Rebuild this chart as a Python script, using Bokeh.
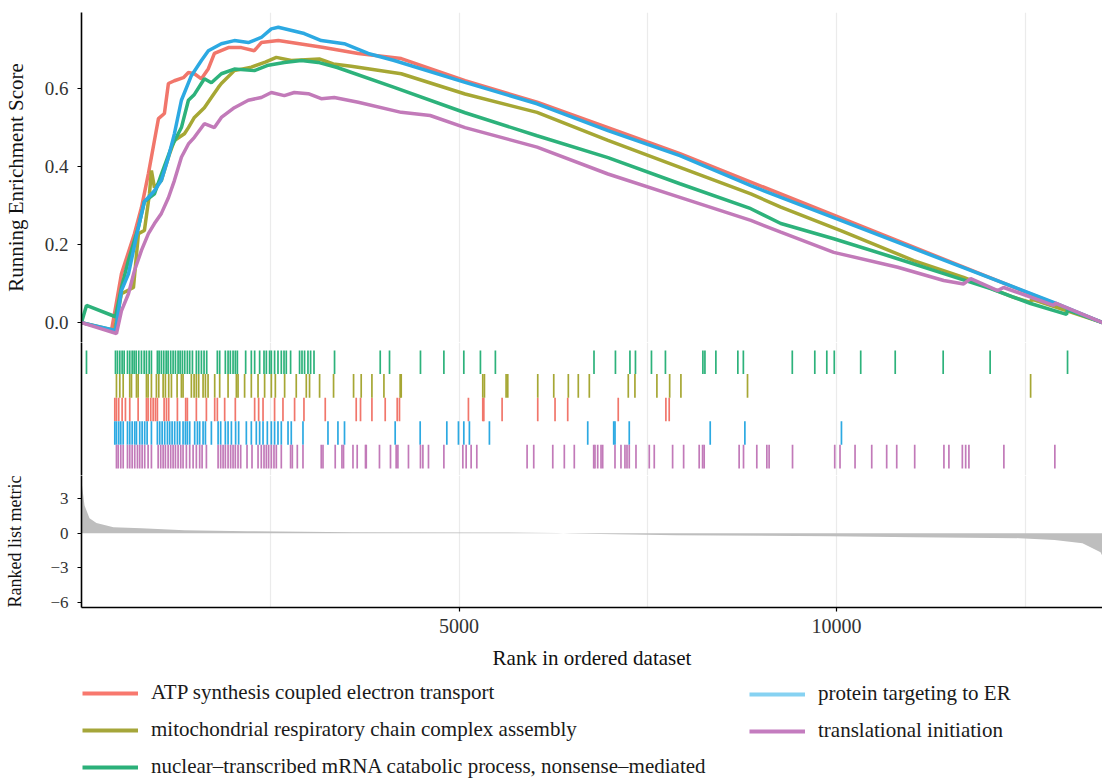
from bokeh.plotting import figure
from bokeh.layouts import column
from bokeh.models import Range1d, FixedTicker, Legend, LegendItem, PrintfTickFormatter
from bokeh.embed import file_html
from bokeh.resources import INLINE

# ---------------- data ----------------
N_GENES = 13521

set_names = [
    "ATP synthesis coupled electron transport",
    "mitochondrial respiratory chain complex assembly",
    "nuclear\u2013transcribed mRNA catabolic process, nonsense\u2013mediated",
    "protein targeting to ER",
    "translational initiation",
]
set_colors = ["#F1766B", "#A6A734", "#2DB27B", "#2CA9E2", "#C27AB9"]
legend_colors = ["#F8786E", "#A5A63A", "#2BB079", "#86D2F2", "#C47CBF"]

# running enrichment score (rank, ES)
atp_rank = [0, 397, 437, 529, 701, 794, 886, 966, 1019, 1098, 1151, 1230, 1349, 1416, 1495, 1588,
            1680, 1760, 1945, 2117, 2289, 2381, 2606, 2778, 3188, 3665, 4234, 5080, 6033, 6972, 7925, 13521]
atp_es = [0.0, -0.02, 0.023, 0.125, 0.228, 0.295, 0.382, 0.467, 0.523, 0.536, 0.613, 0.62, 0.628, 0.641,
          0.638, 0.625, 0.651, 0.69, 0.705, 0.705, 0.697, 0.718, 0.723, 0.718, 0.706, 0.69, 0.677, 0.62,
          0.565, 0.50, 0.433, 0.0]

mito_rank = [0, 437, 529, 688, 754, 833, 900, 926, 966, 1058, 1151, 1230, 1363, 1416, 1495, 1627, 1720,
             1812, 1852, 2024, 2249, 2434, 2580, 2778, 3149, 3334, 3572, 4234, 5080, 6033, 6972, 7925,
             8864, 9261, 10055, 11021, 11682, 12344, 12569, 12582, 13521]
mito_es = [0.0, -0.02, 0.074, 0.09, 0.228, 0.236, 0.33, 0.39, 0.346, 0.364, 0.424, 0.467, 0.484, 0.50,
           0.526, 0.551, 0.577, 0.603, 0.613, 0.646, 0.655, 0.668, 0.68, 0.672, 0.676, 0.663, 0.657, 0.638,
           0.586, 0.539, 0.467, 0.398, 0.33, 0.296, 0.236, 0.159, 0.116, 0.065, 0.052, 0.06, 0.0]

nmd_rank = [0, 66, 450, 529, 622, 754, 833, 966, 1058, 1191, 1323, 1416, 1495, 1627, 1720, 1852, 2024,
            2289, 2474, 2686, 2911, 3135, 3387, 4141, 5080, 6033, 6972, 7925, 8864, 9261, 9962, 10756,
            11378, 12039, 12569, 13045, 13058, 13521]
nmd_es = [0.0, 0.044, 0.015, 0.09, 0.16, 0.245, 0.31, 0.33, 0.38, 0.45, 0.50, 0.57, 0.585, 0.625, 0.615,
          0.638, 0.65, 0.646, 0.66, 0.667, 0.672, 0.667, 0.654, 0.603, 0.538, 0.479, 0.423, 0.356, 0.292,
          0.254, 0.215, 0.167, 0.128, 0.087, 0.049, 0.021, 0.033, 0.0]

er_rank = [0, 450, 529, 622, 754, 833, 966, 1058, 1151, 1230, 1323, 1455, 1588, 1680, 1852, 2024, 2209,
           2381, 2514, 2606, 2950, 3175, 3479, 3797, 4141, 5080, 6033, 6972, 7925, 8864, 9261, 10055,
           12873, 13521]
er_es = [0.0, -0.02, 0.082, 0.125, 0.245, 0.31, 0.338, 0.365, 0.424, 0.484, 0.57, 0.633, 0.672, 0.697,
         0.715, 0.723, 0.718, 0.731, 0.753, 0.757, 0.741, 0.723, 0.715, 0.69, 0.672, 0.616, 0.561, 0.492,
         0.428, 0.351, 0.321, 0.262, 0.052, 0.0]

ti_rank = [0, 463, 529, 622, 701, 794, 886, 966, 1058, 1151, 1230, 1323, 1416, 1495, 1627, 1760, 1852,
           2024, 2209, 2381, 2514, 2686, 2818, 3003, 3175, 3347, 3665, 4234, 4617, 5080, 6033, 6972, 7925,
           8864, 9261, 9962, 10809, 11418, 11682, 11775, 12132, 12211, 12873, 12900, 13521]
ti_es = [0.0, -0.028, 0.03, 0.074, 0.133, 0.185, 0.228, 0.254, 0.28, 0.32, 0.364, 0.424, 0.458, 0.475,
         0.51, 0.50, 0.526, 0.551, 0.57, 0.577, 0.59, 0.582, 0.59, 0.587, 0.574, 0.577, 0.565, 0.539, 0.531,
         0.50, 0.45, 0.381, 0.321, 0.262, 0.232, 0.18, 0.142, 0.108, 0.099, 0.113, 0.082, 0.09, 0.044,
         0.05, 0.0]

# hit positions (rank of each gene of the set)
atp_hits = [441, 463, 493, 538, 582, 639, 750, 860, 882, 917, 949, 979, 1005, 1094, 1125, 1155, 1270,
            1380, 1402, 1521, 1654, 1764, 1799, 1896, 2037, 2293, 2346, 2404, 2557, 2668, 2822, 2946,
            3228, 3638, 3695, 3846, 4022, 4181, 4211, 5124, 5314, 5328, 5570, 6042, 6271, 6439, 7108,
            7739, 7783]
mito_hits = [463, 507, 552, 639, 662, 728, 750, 860, 882, 926, 992, 1023, 1081, 1111, 1155, 1191, 1266,
             1323, 1345, 1455, 1491, 1521, 1552, 1610, 1641, 1676, 1764, 1830, 1941, 2051, 2073, 2160,
             2249, 2338, 2425, 2514, 2567, 2690, 2844, 2977, 3020, 3153, 3338, 3603, 3704, 3846, 4005,
             4220, 4234, 5314, 5336, 5623, 5645, 6042, 6254, 6447, 6579, 6725, 7241, 7329, 7620, 7789,
             7938, 8820, 12569]
nmd_hits = [66, 450, 476, 507, 538, 565, 609, 639, 671, 697, 724, 758, 794, 830, 860, 896, 926, 1005,
            1028, 1058, 1089, 1121, 1147, 1181, 1213, 1244, 1279, 1306, 1336, 1367, 1402, 1433, 1469,
            1521, 1552, 1588, 1623, 1658, 1799, 1830, 1905, 1941, 1971, 2007, 2037, 2064, 2174, 2249,
            2293, 2359, 2417, 2448, 2491, 2514, 2557, 2602, 2646, 2682, 2712, 2769, 2888, 2920, 2954,
            2999, 3034, 3079, 3351, 3956, 4079, 4489, 4799, 5063, 5283, 5481, 6787, 7071, 7263, 7336,
            7548, 7733, 8229, 8256, 8401, 8692, 8765, 9413, 9711, 9870, 9969, 10319, 10776, 11411,
            12033, 13058]
er_hits = [441, 463, 493, 520, 552, 609, 639, 671, 705, 728, 771, 803, 837, 869, 926, 1005, 1036, 1068,
           1102, 1138, 1168, 1200, 1234, 1270, 1301, 1345, 1376, 1402, 1433, 1499, 1535, 1565, 1610,
           1641, 1720, 1809, 1843, 1905, 1941, 1985, 2041, 2081, 2183, 2249, 2315, 2359, 2404, 2461,
           2514, 2557, 2602, 2646, 2735, 2778, 2933, 3264, 3396, 3483, 4154, 4485, 4838, 4992, 5063,
           5137, 5402, 6704, 7048, 7065, 7254, 8326, 8785, 10064]
ti_hits = [463, 486, 520, 552, 609, 639, 671, 705, 741, 771, 803, 837, 882, 926, 1015, 1049, 1081, 1111,
           1147, 1181, 1213, 1244, 1279, 1314, 1345, 1389, 1433, 1478, 1521, 1565, 1597, 1654, 1809,
           1843, 1875, 1905, 1941, 1975, 2007, 2037, 2073, 2108, 2192, 2258, 2338, 2381, 2417, 2448,
           2478, 2514, 2549, 2580, 2646, 2769, 2792, 2858, 2933, 3175, 3198, 3360, 3449, 3470, 3595,
           3651, 3761, 3771, 3946, 4092, 4167, 4190, 4330, 4489, 4521, 4595, 4799, 5050, 5094, 5160,
           5235, 5901, 5989, 6241, 6394, 6526, 6783, 6800, 6836, 6880, 6902, 7065, 7144, 7197, 7224,
           7254, 7343, 7519, 7585, 7828, 7974, 8180, 8225, 8246, 8709, 8767, 8943, 9076, 9106, 9416,
           9975, 10045, 10244, 10465, 10663, 10796, 11034, 11421, 11487, 11665, 11709, 11752, 12215,
           12890]

# ranked list metric
metric_rank = [0, 40, 106, 198, 423, 794, 1363, 2196, 3585, 5450, 6300, 6380, 6470, 7870, 9909, 11034,
               12423, 12886, 13256, 13495, 13521]
metric_val = [4.5, 2.4, 1.3, 0.87, 0.52, 0.43, 0.26, 0.17, 0.09, 0.06, 0.02, 0.0, -0.02, -0.17, -0.26,
              -0.35, -0.43, -0.6, -0.87, -1.65, -2.0]

es_ticks = [0.0, 0.2, 0.4, 0.6]
metric_ticks = [-6, -3, 0, 3]
rank_ticks = [5000, 10000]
grid_ticks = [2500, 5000, 7500, 10000, 12500]

curves = [(atp_rank, atp_es), (mito_rank, mito_es), (nmd_rank, nmd_es), (er_rank, er_es), (ti_rank, ti_es)]
hits = [atp_hits, mito_hits, nmd_hits, er_hits, ti_hits]
hit_row = [2, 3, 4, 1, 0]  # row from bottom

# ---------------- styling helpers ----------------
FONT = "Liberation Serif"
W = 1102
xr = Range1d(0, N_GENES)


def base(height, y_range, top=0, bottom=0, x_axis=None):
    p = figure(width=W, height=height, x_range=xr, y_range=y_range, output_backend="svg",
               toolbar_location=None, x_axis_location=x_axis, min_border_left=81,
               min_border_right=0, min_border_top=top, min_border_bottom=bottom)
    p.outline_line_color = None
    p.background_fill_color = "white"
    p.border_fill_color = "white"
    p.xgrid.ticker = FixedTicker(ticks=grid_ticks)
    p.xgrid.grid_line_color = "#ebebeb"
    p.xgrid.grid_line_width = 1.2
    p.ygrid.visible = False
    return p


def style_axis(ax, tick_size):
    ax.axis_line_color = "black"
    ax.axis_line_width = 1.6
    ax.major_tick_line_color = "black"
    ax.major_tick_line_width = 1.2
    ax.major_tick_out = 4
    ax.major_tick_in = 0
    ax.minor_tick_out = 0
    ax.minor_tick_in = 0
    ax.major_label_text_font = FONT
    ax.major_label_text_font_size = tick_size
    ax.major_label_text_color = "#333333"
    ax.axis_label_text_font = FONT
    ax.axis_label_text_font_style = "normal"
    ax.axis_label_text_color = "#111111"


# ---------------- ES panel ----------------
pA = base(342, Range1d(-0.051, 0.795), top=12)
for (rk, es), col in zip(curves, set_colors):
    pA.line(rk, es, color=col, line_width=3.5)
ya = pA.yaxis[0]
ya.ticker = FixedTicker(ticks=es_ticks)
ya.formatter = PrintfTickFormatter(format="%.1f")
style_axis(ya, "19px")
ya.axis_label = "Running Enrichment Score"
ya.axis_label_text_font_size = "21px"
ya.major_label_standoff = 9
ya.axis_label_standoff = 14

# ---------------- hits panel ----------------
pB = base(133, Range1d(-0.30, 5.34))
for hs, row, col in zip(hits, hit_row, set_colors):
    pB.segment(x0=hs, y0=[row] * len(hs), x1=hs, y1=[row + 1] * len(hs), line_color=col, line_width=1.7)
yb = pB.yaxis[0]
yb.ticker = FixedTicker(ticks=[])
style_axis(yb, "19px")

# ---------------- ranked metric panel ----------------
pC = base(202, Range1d(-6.43, 4.99), bottom=70, x_axis="below")
pC.varea(x=metric_rank, y1=[0] * len(metric_rank), y2=metric_val, fill_color="#BEBEBE")
yc = pC.yaxis[0]
yc.ticker = FixedTicker(ticks=metric_ticks)
style_axis(yc, "17px")
yc.axis_label = "Ranked list metric"
yc.axis_label_text_font_size = "18px"
yc.major_label_standoff = 9
yc.axis_label_standoff = 22
xc = pC.xaxis[0]
xc.ticker = FixedTicker(ticks=rank_ticks)
style_axis(xc, "20px")
xc.axis_label = "Rank in ordered dataset"
xc.axis_label_text_font_size = "21px"
xc.major_label_standoff = 7
xc.axis_label_standoff = 10

# ---------------- legend panel ----------------
# the legend's line keys reuse the curve data, kept out of the visible y range of this panel
pD = figure(width=W, height=101, x_range=Range1d(0, N_GENES), y_range=Range1d(5, 6), output_backend="svg",
            toolbar_location=None, x_axis_location=None, y_axis_location=None, min_border=0)
pD.outline_line_color = None
pD.grid.visible = False
pD.background_fill_color = "white"
pD.border_fill_color = "white"
keys = [pD.line(rk, es, color=c, line_width=4) for (rk, es), c in zip(curves, legend_colors)]
items = [LegendItem(label=n, renderers=[r]) for n, r in zip(set_names, keys)]


def make_legend(its, loc):
    return Legend(items=its, location=loc, orientation="vertical", padding=0, margin=0, spacing=12,
                  glyph_width=56, glyph_height=24, label_height=24, label_standoff=13,
                  label_text_font=FONT, label_text_font_size="21px", label_text_color="#1a1a1a",
                  background_fill_alpha=0, border_line_alpha=0)


pD.add_layout(make_legend(items[:3], (1, -1)))
pD.add_layout(make_legend(items[3:], (668, 35)))

layout = column(pA, pB, pC, pD, spacing=0)
open("out.html", "w").write(file_html(layout, INLINE))
